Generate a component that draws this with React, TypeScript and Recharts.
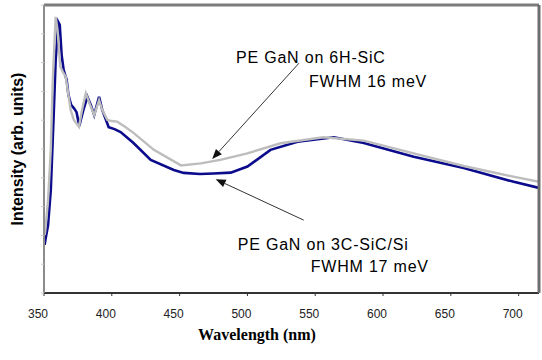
import { LineChart, Line, XAxis, YAxis, ReferenceLine } from 'recharts'

const wavelengthTicks = [350, 400, 450, 500, 550, 600, 650, 700]

// PE GaN on 3C-SiC/Si (navy)
const sic3cWavelength = [
  350.5, 351, 353, 355, 357, 358.6, 360.5, 361.6, 363, 364.5, 366.7, 368, 370, 372, 374, 376,
  379, 382, 384.5, 387, 390.6, 393, 397.7, 402, 406.5, 416, 428.7, 445.7, 453, 465, 475, 487.7,
  500, 517, 537, 563.7, 585.8, 622.6, 659.5, 696.4, 715,
]
const sic3cIntensity = [
  16.7, 18.4, 23.6, 35.8, 60.1, 80.9, 94.1, 93.1, 82.6, 77.4, 74.0, 68.8, 65.3, 64.2, 62.8, 58.0,
  63.5, 68.1, 65.3, 61.8, 68.1, 63.5, 57.6, 56.9, 55.9, 52.1, 46.2, 42.7, 41.7, 41.3, 41.5, 41.8,
  43.9, 49.7, 52.5, 54.1, 52.1, 47.3, 43.4, 38.6, 36.5,
]

// PE GaN on 6H-SiC (grey)
const sic6hWavelength = [
  350.5, 351, 353, 355, 356.5, 358.6, 360, 362, 364, 366, 368, 369.7, 372, 375.8, 378, 380.8,
  384, 387, 390.6, 393, 396.7, 400, 404, 410, 416, 431, 451, 465.6, 480, 500, 524.5, 556, 585.8,
  622.6, 659.5, 696, 715,
]
const sic6hIntensity = [
  20.1, 21.9, 32.3, 49.7, 74.0, 95.9, 91.3, 78.6, 76.7, 75.1, 68.8, 63.5, 60.1, 57.7, 63.5, 69.4,
  65.3, 61.8, 67.0, 63.5, 60.1, 59.7, 59.5, 57.6, 55.6, 49.7, 44.3, 45.0, 46.2, 48.5, 52.0, 54.1,
  52.9, 48.5, 44.1, 40.4, 38.6,
]

const sic3cData = sic3cWavelength.map((w, i) => ({ w, v: sic3cIntensity[i] }))
const sic6hData = sic6hWavelength.map((w, i) => ({ w, v: sic6hIntensity[i] }))

const minorTicks = Array.from({ length: 41 }, (_, i) => i * 2.5)

const labelFont = '"Liberation Sans", Arial, sans-serif'

// arrow + two-line caption, caption placed relative to the arrow's tail
function arrowWithText(lines: string[], t1: [number, number], t2: [number, number]) {
  return (p: any) => {
    const { x1, y1, x2, y2 } = p
    const ang = Math.atan2(y2 - y1, x2 - x1)
    const len = 10
    const wid = 4
    const bx = x2 - len * Math.cos(ang)
    const by = y2 - len * Math.sin(ang)
    const px = -Math.sin(ang) * wid
    const py = Math.cos(ang) * wid
    return (
      <g>
        <line x1={x1} y1={y1} x2={bx} y2={by} stroke="#333" strokeWidth={1} />
        <polygon points={`${x2},${y2} ${bx + px},${by + py} ${bx - px},${by - py}`} fill="#111" />
        <text x={x1 + t1[0]} y={y1 + t1[1]} fontFamily={labelFont} fontSize={16} letterSpacing={0.8} fill="#000">
          {lines[0]}
        </text>
        <text x={x1 + t2[0]} y={y1 + t2[1]} fontFamily={labelFont} fontSize={16} letterSpacing={0.8} fill="#000">
          {lines[1]}
        </text>
      </g>
    )
  }
}

function WaveTick(props: any) {
  const { x, y, payload } = props
  return (
    <text x={x - 6} y={y} dy={20} textAnchor="middle" fontFamily={labelFont} fontSize={12} fill="#222">
      {payload.value}
    </text>
  )
}

const NoLabel = () => <g />

export default function App() {
  return (
    <div style={{ position: 'absolute', left: 0, top: 0, background: '#fff' }}>
      <LineChart width={542} height={360} margin={{ top: 5, right: 3, left: 0, bottom: 0 }}>
        <XAxis
          dataKey="w"
          type="number"
          domain={[350, 715]}
          ticks={wavelengthTicks}
          allowDataOverflow
          height={67}
          axisLine={{ stroke: '#333', strokeWidth: 2 }}
          tickLine={{ stroke: '#333' }}
          tickSize={3}
          tick={<WaveTick />}
          label={(p: any) => (
            <text
              x={257}
              y={p.viewBox.y + 47}
              textAnchor="middle"
              fontFamily='"Liberation Serif", "Times New Roman", serif'
              fontWeight="bold"
              fontSize={16}
              fill="#000"
            >
              Wavelength (nm)
            </text>
          )}
        />
        <XAxis
          xAxisId="top"
          orientation="top"
          mirror
          type="number"
          domain={[350, 715]}
          height={0}
          ticks={[]}
          tick={false}
          tickLine={false}
          axisLine={{ stroke: '#7c7c7c', strokeWidth: 3 }}
        />
        <YAxis
          type="number"
          domain={[0, 100]}
          ticks={minorTicks}
          width={44}
          tick={<NoLabel />}
          tickSize={3}
          axisLine={{ stroke: '#8c8c8c', strokeWidth: 2 }}
          tickLine={{ stroke: '#c8c8c8' }}
          label={(p: any) => (
            <text
              x={23}
              y={p.viewBox.y + p.viewBox.height / 2}
              transform={`rotate(-90, 23, ${p.viewBox.y + p.viewBox.height / 2})`}
              textAnchor="middle"
              fontFamily={labelFont}
              fontWeight="bold"
              fontSize={16}
              fill="#000"
            >
              Intensity (arb. units)
            </text>
          )}
        />
        <YAxis
          yAxisId="r"
          orientation="right"
          mirror
          type="number"
          domain={[0, 100]}
          ticks={minorTicks}
          width={3}
          tick={<NoLabel />}
          tickSize={3}
          axisLine={{ stroke: '#6e6e6e', strokeWidth: 3 }}
          tickLine={{ stroke: '#a0a0a0' }}
        />
        <ReferenceLine y={100} stroke="#7c7c7c" strokeWidth={3} ifOverflow="visible" />
        <Line
          data={sic3cData}
          dataKey="v"
          type="linear"
          stroke="#0b0b8c"
          strokeWidth={2.6}
          dot={false}
          isAnimationActive={false}
        />
        <Line
          data={sic6hData}
          dataKey="v"
          type="linear"
          stroke="#bdbdbd"
          strokeWidth={2.4}
          dot={false}
          isAnimationActive={false}
        />
        <ReferenceLine
          segment={[
            { x: 538, y: 79.8 },
            { x: 474, y: 46.5 },
          ]}
          shape={arrowWithText(['PE GaN on 6H-SiC', 'FWHM 16 meV'], [-63, 0], [10, 24])}
        />
        <ReferenceLine
          segment={[
            { x: 541.5, y: 25.3 },
            { x: 476.6, y: 39.5 },
          ]}
          shape={arrowWithText(['PE GaN on 3C-SiC/Si', 'FWHM 17 meV'], [-66, 30], [7, 51.5])}
        />
      </LineChart>
    </div>
  )
}
